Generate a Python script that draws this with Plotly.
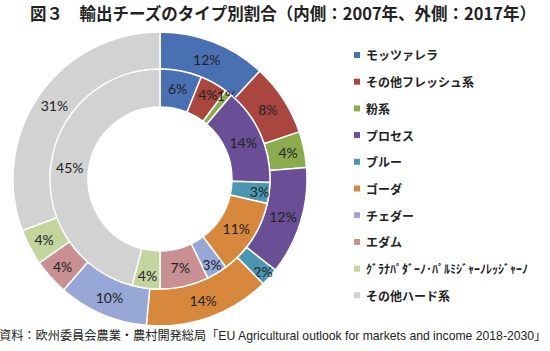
import plotly.graph_objects as go

categories = ["モッツァレラ", "その他フレッシュ系", "粉系", "プロセス", "ブルー",
              "ゴーダ", "チェダー", "エダム", "ｸﾞﾗﾅﾊﾟﾀﾞｰﾉ･ﾊﾟﾙﾐｼﾞｬｰﾉﾚｯｼﾞｬｰﾉ", "その他ハード系"]
share_2007 = [6, 4, 1, 14, 3, 11, 3, 7, 4, 45]
share_2017 = [12, 8, 4, 12, 2, 14, 10, 4, 4, 31]
colors = ["#4A70B4", "#A8463F", "#8CAA4E", "#6A4E96", "#4B97B2",
          "#D8883C", "#97A8D6", "#C99094", "#C3D49E", "#D2D2D2"]

W, H = 550, 351
cx, cy = 160, 179
R_out, R_mid, R_in = 147, 110, 72

def dom(r):
    return dict(x=[(cx - r) / W, (cx + r) / W], y=[1 - (cy + r) / H, 1 - (cy - r) / H])

label_font = dict(family="Lato, Open Sans, sans-serif", size=14, color="#222222")

fig = go.Figure()
for vals, r, hole in [(share_2017, R_out, R_mid / R_out), (share_2007, R_mid, R_in / R_mid)]:
    fig.add_trace(go.Pie(
        labels=categories, values=vals, text=[f"{v}%" for v in vals],
        textinfo="text", textposition="inside", insidetextorientation="horizontal",
        sort=False, direction="clockwise", rotation=0, hole=hole,
        marker=dict(colors=colors, line=dict(color="white", width=1.5)),
        domain=dom(r), showlegend=False, textfont=label_font, hoverinfo="label+text",
    ))

fig.update_layout(
    width=W, height=H, margin=dict(l=0, r=0, t=0, b=0),
    paper_bgcolor="white", plot_bgcolor="white",
    uniformtext=dict(minsize=14, mode="show"),
)

jp = "Noto Sans CJK JP"
fig.add_annotation(x=28 / W, y=1 - 13 / H, xref="paper", yref="paper", xanchor="left", yanchor="middle",
                   text="<b>図３　輸出チーズのタイプ別割合（内側：2007年、外側：2017年）</b>",
                   showarrow=False, font=dict(family=jp, size=16.5, color="#222222"))
fig.add_annotation(x=-3 / W, y=1 - 335 / H, xref="paper", yref="paper", xanchor="left", yanchor="middle",
                   text="資料：欧州委員会農業・農村開発総局「EU Agricultural outlook for markets and income 2018-2030」",
                   showarrow=False, font=dict(family="Liberation Sans, " + jp, size=12.2, color="#222222"))

# legend
for i, (name, col) in enumerate(zip(categories, colors)):
    yc = 55 + 26.7 * i
    fig.add_shape(type="rect", xref="paper", yref="paper",
                  x0=354 / W, x1=360 / W, y0=1 - (yc + 3) / H, y1=1 - (yc - 3) / H,
                  fillcolor=col, line=dict(width=0))
    fig.add_annotation(x=364 / W, y=1 - yc / H, xref="paper", yref="paper", xanchor="left", yanchor="middle",
                       text=f"<b>{name}</b>", showarrow=False, font=dict(family=jp, size=12, color="#222222"))

fig.write_html("out.html")
